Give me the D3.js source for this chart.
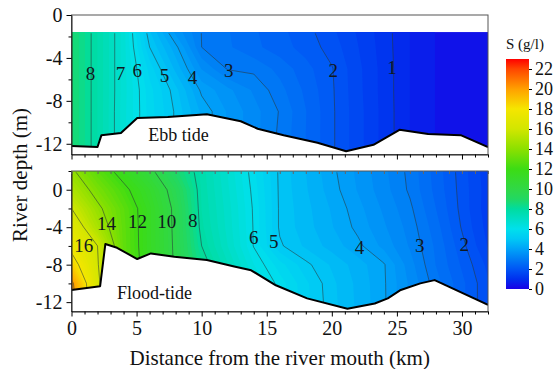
<!DOCTYPE html>
<html><head><meta charset="utf-8">
<script src="https://cdn.jsdelivr.net/npm/d3@7"></script>
<style>
body{margin:0;background:#fff;}
svg{display:block;font-family:"Liberation Serif","Times New Roman",serif;}
</style>
</head><body>
<svg id="c" width="560" height="369"></svg>
<script>
// ---------- data ----------
const kmGrid = [0,2,4,6,8,10,12,14,16,18,20,22,24,26,28,30,32];

const ebbDepths = [-1.6,-3,-5,-7,-9,-11,-13];
const ebbSalinity = [
  [8.8,7.74,6.62,4.79,3.68,2.99,2.77,2.54,2.32,2.10,1.81,1.47,1.12,0.75,0.49,0.35,0.27],
  [8.8,7.74,6.62,5.00,4.09,3.00,2.79,2.57,2.36,2.15,1.89,1.51,1.13,0.75,0.49,0.35,0.27],
  [8.8,7.74,6.62,5.40,4.43,3.48,2.97,2.93,2.67,2.34,2.02,1.57,1.15,0.75,0.49,0.35,0.27],
  [8.8,7.74,6.62,5.60,4.84,3.93,3.57,3.21,2.84,2.44,2.04,1.58,1.15,0.75,0.49,0.35,0.27],
  [8.8,7.74,6.60,5.63,4.95,4.19,3.72,3.35,2.98,2.51,2.05,1.60,1.16,0.75,0.49,0.35,0.27],
  [8.8,7.74,6.60,5.63,4.95,4.19,3.72,3.35,2.95,2.50,2.05,1.60,1.16,0.75,0.49,0.35,0.27],
  [8.8,7.74,6.60,5.63,4.95,4.19,3.72,3.35,2.95,2.50,2.05,1.60,1.16,0.75,0.49,0.35,0.27]
];

const floodDepths = [2,0,-2,-4,-6,-8,-10,-13];
const floodSalinity = [
  [14.2,12.75,11.5,10.25,8.86,7.64,6.73,5.81,4.93,4.50,4.07,3.69,3.31,2.92,2.39,1.87,1.34],
  [15.0,13.52,12.29,11.01,9.50,7.69,6.80,5.89,4.94,4.53,4.12,3.73,3.35,2.95,2.42,1.89,1.37],
  [16.0,14.26,12.79,11.33,9.75,7.74,6.87,5.95,4.95,4.58,4.22,3.84,3.45,3.06,2.50,1.91,1.35],
  [17.0,14.86,12.88,11.33,9.78,7.82,6.91,5.97,4.95,4.61,4.27,3.92,3.54,3.15,2.61,1.97,1.40],
  [17.6,16.0,12.92,11.33,9.82,8.00,7.00,5.98,5.05,4.70,4.39,4.08,3.67,3.22,2.70,2.09,1.48],
  [18.7,16.1,13.0,11.4,9.85,8.3,7.28,6.26,5.61,5.08,4.71,4.37,4.03,3.36,2.74,2.21,1.68],
  [20.3,16.3,13.0,11.4,9.9,8.4,7.4,6.5,5.89,5.31,4.82,4.43,4.04,3.45,2.86,2.32,1.78],
  [20.8,16.5,13.0,11.4,9.9,8.4,7.4,6.5,5.90,5.35,4.85,4.45,4.05,3.45,2.86,2.32,1.78]
];

const ebbBedKm    = [0,2.0,2.3,3.8,5.05,7.4,10.4,13.0,14.3,16.3,18.9,21.1,23.2,25.2,27.4,29.9,32];
const ebbBedDepth = [-12.2,-12.3,-11.2,-11.0,-9.6,-9.5,-9.25,-9.9,-10.6,-11.2,-11.9,-12.7,-12.1,-10.7,-11.1,-11.2,-12.3];
const floodBedKm    = [0,2.2,2.6,3.5,5.05,6.1,7.9,10.4,12.5,13.8,15.7,18.1,21.2,23.3,24.3,25.3,26.8,27.9,32];
const floodBedDepth = [-10.7,-10.3,-5.8,-6.2,-7.4,-6.8,-7.15,-7.5,-8.2,-8.6,-10.2,-11.6,-12.7,-12.15,-11.6,-10.7,-10.0,-9.65,-12.3];

const ebbLevels = [1,2,3,4,5,6,7,8];
const floodLevels = [2,3,4,5,6,8,10,12,14,16,18,20];

const ebbLabelText  = ["8","7","6","5","4","3","2","1"];
const ebbLabelKm    = [1.46,3.77,5.05,7.15,9.29,12.08,20.12,24.62];
const ebbLabelDepth = [-5.45,-5.45,-5.2,-5.6,-5.82,-5.2,-5.14,-4.9];
const floodLabelText  = ["16","14","12","10","8","6","5","4","3","2"];
const floodLabelKm    = [0.95,2.69,5.08,7.31,9.31,14.0,15.54,22.12,26.75,30.18];
const floodLabelDepth = [-5.92,-3.59,-3.42,-3.34,-3.24,-5.13,-5.56,-6.16,-5.92,-5.81];

const xTicks = [0,5,10,15,20,25,30];
const ebbYTicks = [0,-4,-8,-12];
const floodYTicks = [0,-4,-8,-12];
const cbTicks = [0,2,4,6,8,10,12,14,16,18,20,22];

const colorStops = [0,1,2,3,4,5,6,8,9,10,12,14,16,18,20,22,23];
const colorHex = ["#1a00e6","#0030ee","#0056f5","#007cf5","#00a2f8","#00c8f5","#00e0ec","#00dca0","#22d862","#30d846","#3cdc14","#8ce000","#d2e600","#f5e600","#ffa000","#ff4600","#ff0000"];

// ---------- drawing ----------
const svg = d3.select("#c");
const defs = svg.append("defs");
const FONT = '"Liberation Serif","Times New Roman",serif';
const x = d3.scaleLinear().domain([0,32]).range([71.5,488]);
const color = d3.scaleLinear().domain(colorStops).range(colorHex).interpolate(d3.interpolateRgb).clamp(true);
const fillStep = 0.25;
const fillThresholds = d3.range(0, 23, fillStep);

const panels = [
  {depths: ebbDepths, grid: ebbSalinity, bedKm: ebbBedKm, bedD: ebbBedDepth, levels: ebbLevels,
   lt: ebbLabelText, lk: ebbLabelKm, ld: ebbLabelDepth, yTicks: ebbYTicks, yMinor: [-2,-6,-10],
   y: d3.scaleLinear().domain([-13,0]).range([154.5,15]), title: "Ebb tide", titleKm: 8.23, titleD: -11.7,
   xLabels: false, topTicks: false},
  {depths: floodDepths, grid: floodSalinity, bedKm: floodBedKm, bedD: floodBedDepth, levels: floodLevels,
   lt: floodLabelText, lk: floodLabelKm, ld: floodLabelDepth, yTicks: floodYTicks, yMinor: [2,-2,-6,-10],
   y: d3.scaleLinear().domain([-13,2]).range([311.5,171]), title: "Flood-tide", titleKm: 6.38, titleD: -11.68,
   xLabels: true, topTicks: true}
];

panels.forEach((p, pi) => {
  const n = kmGrid.length, m = p.depths.length;
  const values = p.grid.flat();
  const gx = d3.scaleLinear().domain([0, ...d3.range(n).map(i => i + 0.5), n]).range([kmGrid[0], ...kmGrid, kmGrid[n-1]]);
  const gy = d3.scaleLinear().domain([0, ...d3.range(m).map(i => i + 0.5), m]).range([p.depths[0], ...p.depths, p.depths[m-1]]);
  const proj = d3.geoTransform({point(a, b) { this.stream.point(x(gx(a)), p.y(gy(b))); }});
  const path = d3.geoPath(proj);
  const [x0, x1] = x.range();
  const [yb, yt] = p.y.range();

  defs.append("clipPath").attr("id", "pc" + pi).append("rect")
    .attr("x", x0).attr("y", yt).attr("width", x1 - x0).attr("height", yb - yt);
  const gTop = p.y(p.depths[0]), gBot = p.y(p.depths[m-1]);
  defs.append("clipPath").attr("id", "lc" + pi).append("rect")
    .attr("x", x0 + 1.2).attr("y", gTop + 1.2).attr("width", x1 - x0 - 2.4).attr("height", gBot - gTop - 2.4);

  const g = svg.append("g").attr("clip-path", `url(#pc${pi})`);
  const fills = d3.contours().size([n, m]).thresholds(fillThresholds)(values);
  g.append("g").selectAll("path").data(fills).join("path")
    .attr("d", path)
    .attr("fill", d => color(d.value + fillStep / 2));

  const lines = d3.contours().size([n, m]).thresholds(p.levels)(values);
  g.append("g").attr("clip-path", `url(#lc${pi})`).selectAll("path").data(lines).join("path")
    .attr("d", path).attr("fill", "none")
    .attr("stroke", "#2a3a3a").attr("stroke-width", 0.7).attr("stroke-opacity", 0.8);

  const bed = p.bedKm.map((k, i) => [k, p.bedD[i]]);
  g.append("path").datum(bed)
    .attr("d", d3.area().x(d => x(d[0])).y0(p.y(-13)).y1(d => p.y(d[1])))
    .attr("fill", "#fff");
  g.append("path").datum(bed)
    .attr("d", d3.line().x(d => x(d[0])).y(d => p.y(d[1])))
    .attr("fill", "none").attr("stroke", "#000").attr("stroke-width", 2).attr("stroke-linejoin", "round");

  svg.append("g").selectAll("text").data(p.lt).join("text")
    .attr("x", (d, i) => x(p.lk[i])).attr("y", (d, i) => p.y(p.ld[i]))
    .attr("text-anchor", "middle").attr("dominant-baseline", "central")
    .attr("font-size", 19).attr("fill", "#101820").text(d => d);

  svg.append("text").attr("x", x(p.titleKm)).attr("y", p.y(p.titleD))
    .attr("text-anchor", "middle").attr("font-size", 18).attr("fill", "#111").text(p.title);

  // frame
  svg.append("rect").attr("x", x0).attr("y", yt).attr("width", x1 - x0).attr("height", yb - yt)
    .attr("fill", "none").attr("stroke", "#555").attr("stroke-width", 1);

  // left axis
  const ya = svg.append("g").attr("transform", `translate(${x0},0)`)
    .call(d3.axisLeft(p.y).tickValues(p.yTicks).tickSize(5).tickSizeOuter(0).tickPadding(4).tickFormat(d => String(d)));
  ya.selectAll("text").attr("font-size", 20).attr("font-family", FONT).attr("fill", "#111");
  ya.select(".domain").attr("stroke", "#222");
  const ym = svg.append("g").attr("transform", `translate(${x0},0)`)
    .call(d3.axisLeft(p.y).tickValues(p.yMinor).tickSize(3).tickFormat(""));
  ym.select(".domain").remove();

  // bottom axis
  const xa = svg.append("g").attr("transform", `translate(0,${yb})`)
    .call(d3.axisBottom(x).tickValues(xTicks).tickSize(5).tickSizeOuter(0).tickPadding(4)
      .tickFormat(p.xLabels ? (d => String(d)) : ""));
  xa.selectAll("text").attr("font-size", 20).attr("font-family", FONT).attr("fill", "#111");
  xa.select(".domain").attr("stroke", "#222");
  const xm = svg.append("g").attr("transform", `translate(0,${yb})`)
    .call(d3.axisBottom(x).tickValues(d3.range(0, 33, 1).filter(v => v % 5)).tickSize(3).tickFormat(""));
  xm.select(".domain").remove();

  if (p.topTicks) {
    const tt = svg.append("g").attr("transform", `translate(0,${yt})`)
      .call(d3.axisBottom(x).tickValues(d3.range(0, 33, 1)).tickSize(3).tickFormat(""));
    tt.select(".domain").remove();
    tt.selectAll("line").attr("stroke", "#666");
  }
});

// axis titles
svg.append("text").attr("x", (x.range()[0] + x.range()[1]) / 2).attr("y", 365)
  .attr("text-anchor", "middle").attr("font-size", 21).attr("fill", "#111")
  .text("Distance from the river mouth (km)");
svg.append("text").attr("transform", "translate(27,175) rotate(-90)")
  .attr("text-anchor", "middle").attr("font-size", 21).attr("fill", "#111")
  .text("River depth (m)");

// colorbar
const cb = d3.scaleLinear().domain([0, 23]).range([289, 59]);
const grad = defs.append("linearGradient").attr("id", "cbg")
  .attr("x1", 0).attr("y1", 1).attr("x2", 0).attr("y2", 0);
grad.selectAll("stop").data(colorStops).join("stop")
  .attr("offset", d => d / 23).attr("stop-color", d => color(d));
svg.append("rect").attr("x", 506).attr("y", cb(23)).attr("width", 23).attr("height", cb(0) - cb(23))
  .attr("fill", "url(#cbg)");
const ca = svg.append("g").attr("transform", "translate(529,0)")
  .call(d3.axisRight(cb).tickValues(cbTicks).tickSize(3).tickPadding(3).tickFormat(d => String(d)));
ca.select(".domain").remove();
ca.selectAll("text").attr("font-size", 18).attr("font-family", FONT).attr("fill", "#111");
svg.append("text").attr("x", 506).attr("y", 49).attr("font-size", 15).attr("fill", "#111").text("S (g/l)");
</script>
</body></html>
